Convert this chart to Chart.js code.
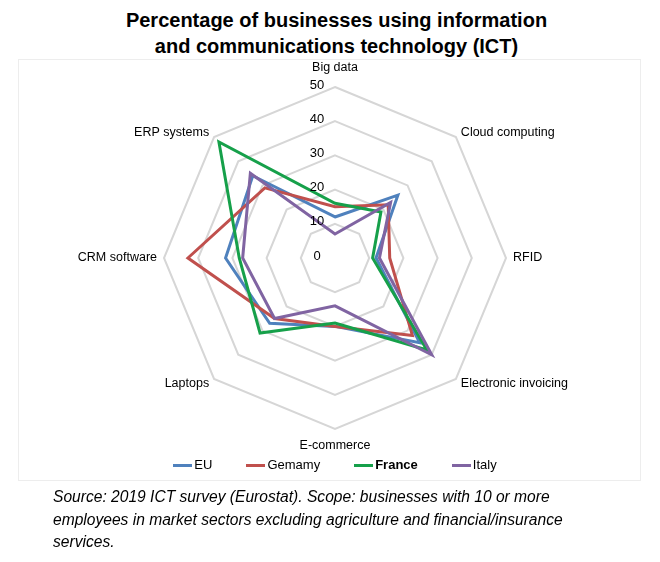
<!DOCTYPE html>
<html>
<head>
<meta charset="utf-8">
<script src="https://cdn.jsdelivr.net/npm/chart.js@4.4.1/dist/chart.umd.min.js"></script>
<style>
    body {
        margin: 0;
        background: #ffffff;
        font-family: Arial, "Liberation Sans", sans-serif;
    }
    #wrap {
        position: relative;
        width: 660px;
        height: 562px;
        overflow: hidden;
    }
    #title {
        position: absolute;
        left: 0;
        top: 7px;
        width: 673px;
        text-align: center;
        font-size: 20px;
        font-weight: bold;
        line-height: 26px;
        color: #000;
    }
    #frame {
        position: absolute;
        left: 18px;
        top: 59px;
        width: 621px;
        height: 420px;
        border: 1px solid #ededed;
    }
    #chart {
        position: absolute;
        left: 0;
        top: 0;
    }
    #legend {
        position: absolute;
        left: 0;
        width: 670px;
        top: 456px;
        display: flex;
        justify-content: center;
        gap: 34px;
        font-size: 13px;
        line-height: 18px;
        color: #000;
    }
    .item {
        display: flex;
        align-items: center;
    }
    .swatch {
        width: 19px;
        height: 3px;
        margin-right: 2px;
    }
    #source {
        position: absolute;
        left: 53px;
        top: 486px;
        font-size: 15.6px;
        font-style: italic;
        line-height: 22.5px;
        color: #000;
    }
</style>
</head>
<body>
<div id="wrap">
    <div id="title">Percentage of businesses using information<br>and communications technology (ICT)</div>
    <div id="frame"></div>
    <canvas id="chart" width="660" height="562"></canvas>
    <div id="legend"></div>
    <div id="source">Source: 2019 ICT survey (Eurostat). Scope: businesses with 10 or more<br>employees in market sectors excluding agriculture and financial/insurance<br>services.</div>
</div>

<script>
// ======================================================
// DATA
// ======================================================

const categories = [
    "Big data",
    "Cloud computing",
    "RFID",
    "Electronic invoicing",
    "E-commerce",
    "Laptops",
    "CRM software",
    "ERP systems"
];

const euValues      = [12, 26, 12, 35, 20, 27, 32, 34];
const germanyValues = [15, 22, 16, 32, 20, 25, 43, 29];
const franceValues  = [16, 19, 11, 38, 19, 31, 28, 48];
const italyValues   = [7, 23, 13, 40, 14, 25, 27, 35];

const seriesNames = ["EU", "Gemamy", "France", "Italy"];
const tickValues = [0, 10, 20, 30, 40, 50];

const colors = ["#4f81bd", "#c0504d", "#16a04a", "#8064a2"];

// ======================================================
// LABEL PLUGIN (axis names + scale numbers)
// ======================================================

const radarText = {
    id: "radarText",
    afterDatasetsDraw(chart) {
        const scale = chart.scales.r;
        const ctx = chart.ctx;
        const r = scale.drawingArea;

        ctx.save();
        ctx.fillStyle = "#000000";

        // axis names
        ctx.font = "12.5px Arial, 'Liberation Sans', sans-serif";
        categories.forEach(function (name, i) {
            const angle = Math.round(i * 360 / categories.length);
            let pos;
            if (angle === 0) {
                pos = scale.getPointPosition(i, r + 19);
                ctx.textAlign = "center";
            } else if (angle === 180) {
                pos = scale.getPointPosition(i, r + 17);
                ctx.textAlign = "center";
            } else {
                pos = scale.getPointPosition(i, r + 7);
                ctx.textAlign = angle < 180 ? "left" : "right";
            }
            ctx.textBaseline = "middle";
            ctx.fillText(name, pos.x, pos.y);
        });

        // scale numbers
        ctx.font = "13px Arial, 'Liberation Sans', sans-serif";
        ctx.textAlign = "center";
        ctx.textBaseline = "middle";
        tickValues.forEach(function (v) {
            const d = scale.getDistanceFromCenterForValue(v);
            ctx.fillText(String(v), scale.xCenter - 18, scale.yCenter - d - 2);
        });

        ctx.restore();
    }
};

// ======================================================
// RADAR CHART
// ======================================================

const allValues = [euValues, germanyValues, franceValues, italyValues];

new Chart(document.getElementById("chart").getContext("2d"), {

    type: "radar",

    data: {
        labels: categories,
        datasets: allValues.map(function (vals, i) {
            return {
                label: seriesNames[i],
                data: vals,
                borderColor: colors[i],
                backgroundColor: colors[i],
                borderWidth: 3,
                pointRadius: 0,
                fill: false,
                tension: 0,
                order: 4 - i
            };
        })
    },

    options: {
        responsive: false,
        animation: false,
        layout: {
            padding: { left: 164, right: 154, top: 87, bottom: 133 }
        },
        plugins: {
            legend: { display: false },
            tooltip: { enabled: false },
            title: { display: false }
        },
        scales: {
            r: {
                min: 0,
                max: 50,
                ticks: {
                    stepSize: 10,
                    display: false
                },
                pointLabels: { display: false },
                angleLines: { display: false },
                grid: {
                    circular: false,
                    color: "#d6d6d6",
                    lineWidth: 2
                }
            }
        }
    },

    plugins: [radarText]
});

// ======================================================
// LEGEND
// ======================================================

const legend = document.getElementById("legend");

seriesNames.forEach(function (name, i) {
    const item = document.createElement("div");
    item.className = "item";
    const sw = document.createElement("span");
    sw.className = "swatch";
    sw.style.background = colors[i];
    const txt = document.createElement("span");
    txt.textContent = name;
    if (name === "France") txt.style.fontWeight = "bold";
    item.appendChild(sw);
    item.appendChild(txt);
    legend.appendChild(item);
});
</script>
</body>
</html>
